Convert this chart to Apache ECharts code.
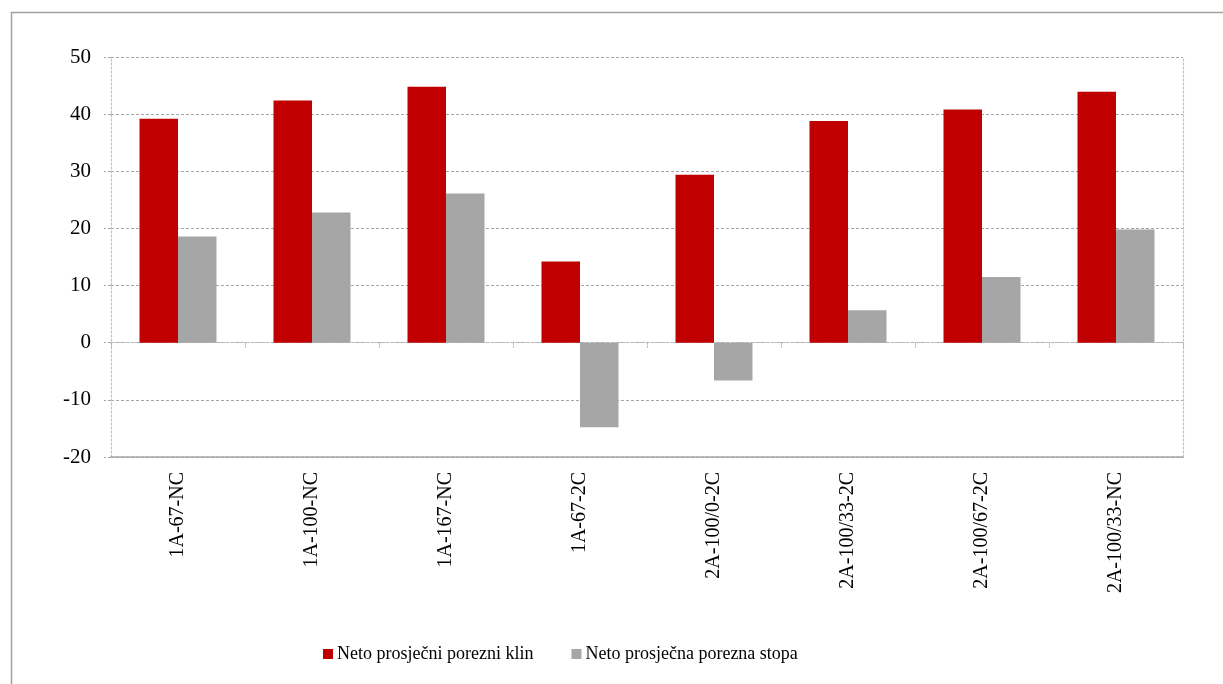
<!DOCTYPE html>
<html>
<head>
<meta charset="utf-8">
<script src="https://cdn.jsdelivr.net/npm/echarts@6/dist/echarts.min.js"></script>
<style>
html,body{margin:0;padding:0;background:#fff;}
#chart{width:1223px;height:684px;}
</style>
</head>
<body>
<div id="chart"></div>
<script>
var categories = ['1A-67-NC','1A-100-NC','1A-167-NC','1A-67-2C','2A-100/0-2C','2A-100/33-2C','2A-100/67-2C','2A-100/33-NC'];
var seriesNames = ['Neto prosječni porezni klin','Neto prosječna porezna stopa'];
var klinValues = [39.2, 42.4, 44.8, 14.2, 29.4, 38.8, 40.8, 43.9];
var stopaValues = [18.6, 22.8, 26.1, -14.8, -6.6, 5.7, 11.5, 19.8];
var yTicks = {min: -20, max: 50, interval: 10};

var FONT = '"Liberation Serif", "DejaVu Serif", serif';
var chart = echarts.init(document.getElementById('chart'), null, {renderer: 'canvas'});
chart.setOption({
  backgroundColor: '#ffffff',
  animation: false,
  graphic: [{
    type: 'rect', left: 9, top: 10, silent: true, z: -1,
    shape: {x: 0, y: 0, width: 1400, height: 900},
    style: {fill: 'none', stroke: '#a0a0a0', lineWidth: 1.5}
  }],
  grid: {left: 111, right: 40, top: 57, bottom: 227, containLabel: false},
  legend: {
    bottom: 16, left: 318, itemWidth: 10, itemHeight: 10, itemGap: 38,
    icon: 'rect',
    textStyle: {fontFamily: FONT, fontSize: 18, color: '#000', padding: [0, 0, 0, -1]},
    data: seriesNames
  },
  xAxis: [{
    type: 'category', data: categories, position: 'bottom',
    axisLine: {onZero: false, lineStyle: {color: '#a6a6a6', width: 1.5}},
    axisTick: {show: false},
    axisLabel: {rotate: 90, interval: 0, fontFamily: FONT, fontSize: 20, color: '#000', margin: 15},
    splitLine: {show: false}
  }, {
    type: 'category', data: categories, position: 'bottom',
    axisLine: {onZero: true, lineStyle: {color: '#bfbfbf', type: [2, 2], width: 1}},
    axisTick: {show: true, interval: 0, length: 5, inside: false, lineStyle: {color: '#b0b0b0', type: [2, 1], width: 1}},
    axisLabel: {show: false},
    splitLine: {show: false}
  }],
  yAxis: [{
    type: 'value', min: yTicks.min, max: yTicks.max, interval: yTicks.interval,
    axisLine: {show: true, lineStyle: {color: '#bfbfbf', type: [2, 2], width: 1.2}},
    axisTick: {show: true, length: 7, lineStyle: {color: '#a6a6a6', type: [3, 2]}},
    axisLabel: {fontFamily: FONT, fontSize: 21, color: '#000', margin: 20},
    splitLine: {show: true, lineStyle: {color: '#a6a6a6', type: [3, 2], width: 1}}
  }, {
    type: 'value', min: yTicks.min, max: yTicks.max, interval: yTicks.interval, position: 'right',
    axisLine: {show: true, lineStyle: {color: '#bfbfbf', type: [2, 2], width: 1.2}},
    axisTick: {show: false}, axisLabel: {show: false}, splitLine: {show: false}
  }],
  series: [{
    name: seriesNames[0], type: 'bar', data: klinValues, xAxisIndex: 0, yAxisIndex: 0,
    barWidth: 38.5, barGap: '0%',
    itemStyle: {color: '#c00000'}
  }, {
    name: seriesNames[1], type: 'bar', data: stopaValues, xAxisIndex: 0, yAxisIndex: 0,
    barWidth: 38.5, barGap: '0%',
    itemStyle: {color: '#a6a6a6'}
  }]
});
</script>
</body>
</html>
